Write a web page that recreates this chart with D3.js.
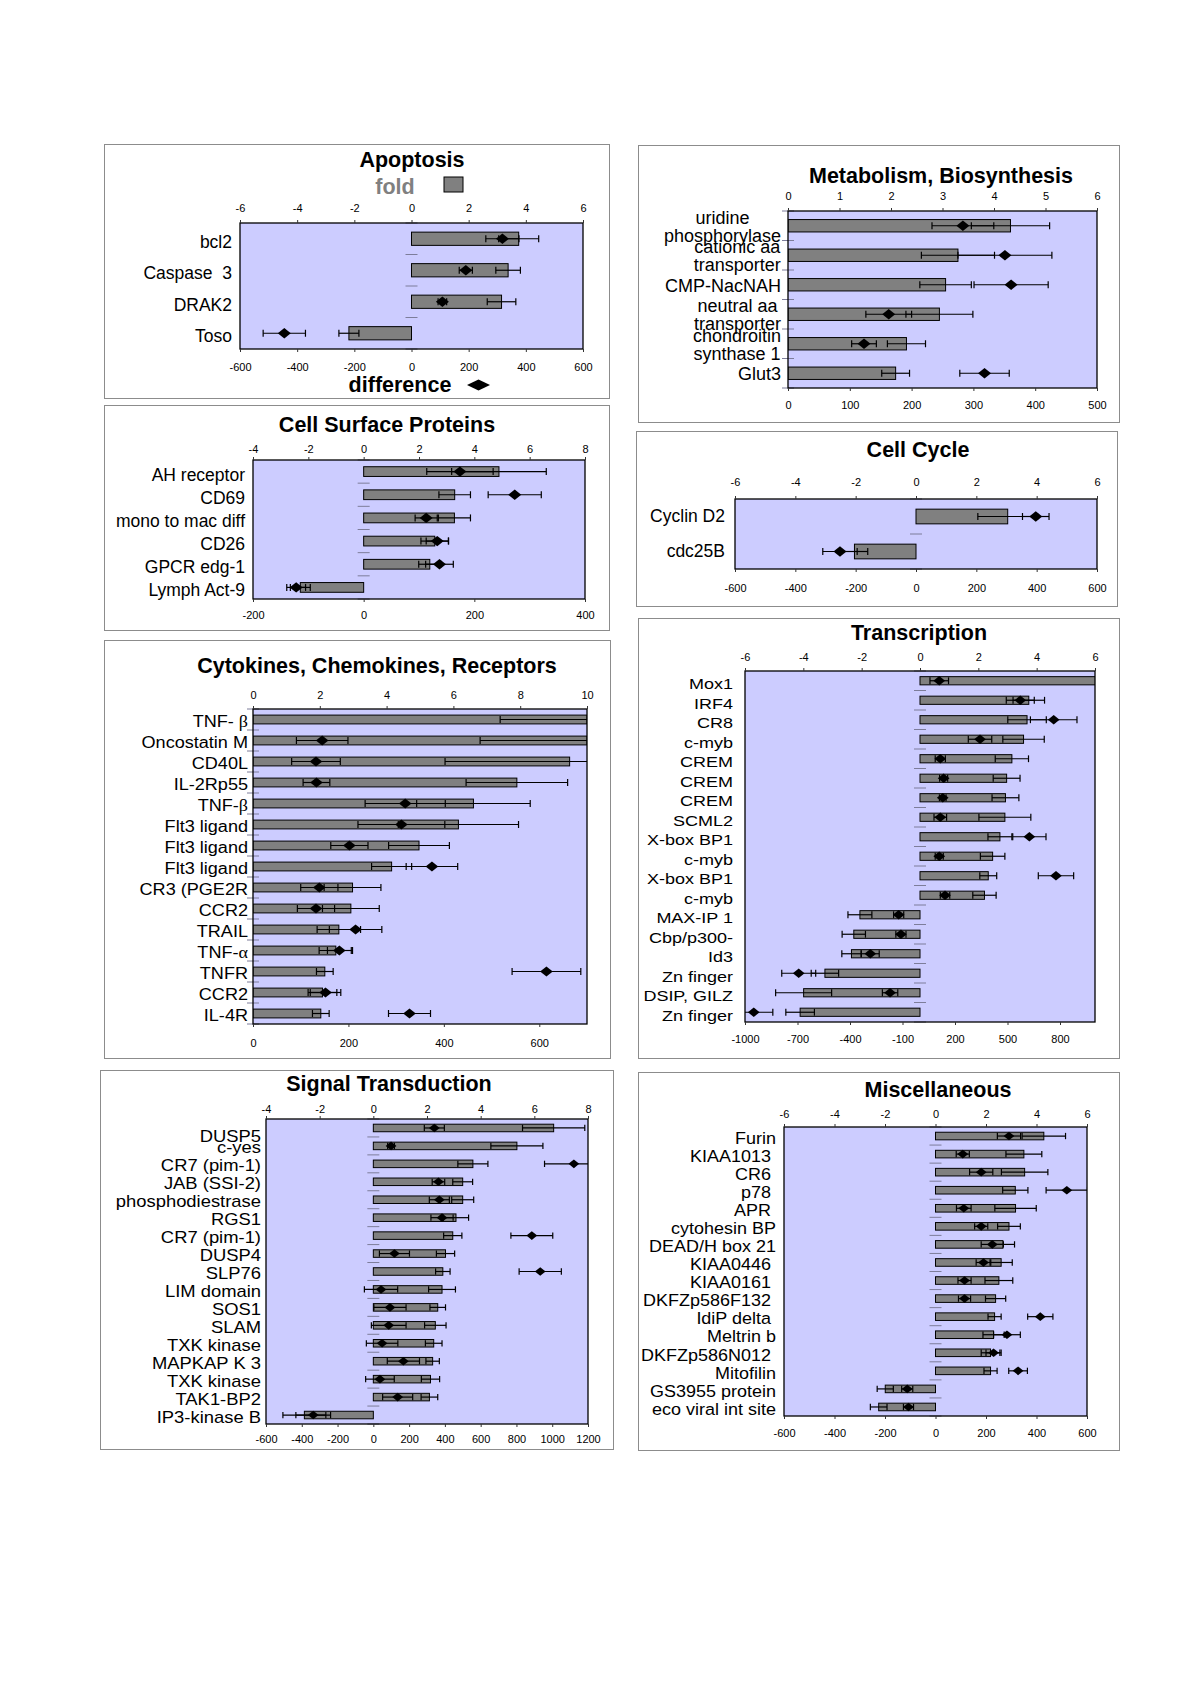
<!DOCTYPE html>
<html><head><meta charset="utf-8">
<script src="https://cdn.jsdelivr.net/npm/d3@7"></script>
<style>
body{margin:0;background:#fff}
svg{display:block}
text{font-family:"Liberation Sans",Arial,Helvetica,sans-serif}
</style>
</head><body>
<svg id="c" width="1198" height="1696"></svg>
<script>
// ---------------- DATA ----------------
// Apoptosis
const apoCategories = ["bcl2", "Caspase  3", "DRAK2", "Toso"];
const apoFold = [3.75, 3.38, 3.15, -2.19];
const apoFoldErr = [0.70, 0.43, 0.50, 0.35];
const apoDiff = [318, 190, 108, -445];
const apoDiffErr = [58, 23, 15, 74];
const apoFoldTicks = [-6, -4, -2, 0, 2, 4, 6];
const apoDiffTicks = [-600, -400, -200, 0, 200, 400, 600];
const apoFoldDomain = [-6, 6];
const apoDiffDomain = [-600, 600];

// Metabolism, Biosynthesis
const metCategories = ["uridine\nphosphorylase", "cationic aa\ntransporter", "CMP-NacNAH", "neutral aa\ntransporter", "chondroitin\nsynthase 1", "Glut3"];
const metFold = [4.32, 3.30, 3.06, 2.94, 2.30, 2.09];
const metFoldErr = [0.76, 0.71, 0.50, 0.65, 0.37, 0.27];
const metDiff = [283, 351, 361, 163, 123, 318];
const metDiffErr = [50, 76, 60, 37, 20, 40];
const metFoldTicks = [0, 1, 2, 3, 4, 5, 6];
const metDiffTicks = [0, 100, 200, 300, 400, 500];
const metFoldDomain = [0, 6];
const metDiffDomain = [0, 500];

// Cell Surface Proteins
const csCategories = ["AH receptor", "CD69", "mono to mac diff", "CD26", "GPCR edg-1", "Lymph Act-9"];
const csFold = [4.89, 3.29, 3.28, 2.57, 2.39, -2.29];
const csFoldErr = [1.71, 0.57, 0.58, 0.50, 0.40, 0.36];
const csDiff = [174, 273, 113, 133, 137, -122];
const csDiffErr = [60, 48, 20, 20, 25, 17];
const csFoldTicks = [-4, -2, 0, 2, 4, 6, 8];
const csDiffTicks = [-200, 0, 200, 400];
const csFoldDomain = [-4, 8];
const csDiffDomain = [-200, 400];

// Cell Cycle
const ccCategories = ["Cyclin D2", "cdc25B"];
const ccFold = [3.04, -2.04];
const ccFoldErr = [0.99, 0.44];
const ccDiff = [397, -252];
const ccDiffErr = [44, 57];
const ccFoldTicks = [-6, -4, -2, 0, 2, 4, 6];
const ccDiffTicks = [-600, -400, -200, 0, 200, 400, 600];
const ccFoldDomain = [-6, 6];
const ccDiffDomain = [-600, 600];

// Cytokines, Chemokines, Receptors
const cyCategories = ["TNF- β", "Oncostatin M", "CD40L", "IL-2Rp55", "TNF-β", "Flt3 ligand", "Flt3 ligand", "Flt3 ligand", "CR3 (PGE2R", "CCR2", "TRAIL", "TNF-α", "TNFR", "CCR2", "IL-4R"];
const cyFold = [10, 10, 9.48, 7.90, 6.60, 6.15, 4.97, 4.15, 2.98, 2.93, 2.57, 2.48, 2.15, 2.08, 2.03];
const cyFoldErr = [2.6, 3.2, 3.73, 1.52, 1.70, 1.80, 0.91, 0.60, 0.85, 0.85, 0.65, 0.50, 0.25, 0.43, 0.25];
const cyDiff = [null, 145, 132, 133, 319, 311, 202, 375, 139, 132, 215, 181, 615, 152, 328];
const cyDiffErr = [null, 54, 51, 28, 84, 91, 39, 54, 39, 39, 55, 25, 72, 32, 44];
const cyFoldTicks = [0, 2, 4, 6, 8, 10];
const cyDiffTicks = [0, 200, 400, 600];
const cyFoldDomain = [0, 10];
const cyDiffDomain = [0, 700];

// Transcription
const trCategories = ["Mox1", "IRF4", "CR8", "c-myb", "CREM", "CREM", "CREM", "SCML2", "X-box BP1", "c-myb", "X-box BP1", "c-myb", "MAX-IP 1", "Cbp/p300-", "Id3", "Zn finger", "DSIP, GILZ", "Zn finger"];
const trFold = [6.2, 3.73, 3.67, 3.55, 3.15, 2.97, 2.93, 2.91, 2.74, 2.49, 2.34, 2.21, -2.06, -2.27, -2.35, -3.26, -3.99, -4.11];
const trFoldErr = [0, 0.54, 0.66, 0.71, 0.57, 0.46, 0.46, 0.89, 0.41, 0.42, 0.29, 0.40, 0.41, 0.40, 0.33, 0.47, 0.96, 0.49];
const trDiff = [110, 573, 764, 343, 116, 135, 130, 116, 625, 110, 777, 143, -122, -109, -284, -693, -171, -950];
const trDiffErr = [53, 80, 133, 67, 29, 23, 19, 36, 95, 23, 101, 27, 29, 29, 51, 97, 44, 109];
const trFoldTicks = [-6, -4, -2, 0, 2, 4, 6];
const trDiffTicks = [-1000, -700, -400, -100, 200, 500, 800];
const trFoldDomain = [-6, 6];
const trDiffDomain = [-1000, 1000];

// Signal Transduction
const stCategories = ["DUSP5", "c-yes", "CR7 (pim-1)", "JAB (SSI-2)", "phosphodiestrase", "RGS1", "CR7 (pim-1)", "DUSP4", "SLP76", "LIM domain", "SOS1", "SLAM", "TXK kinase", "MAPKAP K 3", "TXK kinase", "TAK1-BP2", "IP3-kinase B"];
const stFold = [6.72, 5.35, 3.71, 3.33, 3.33, 3.08, 2.96, 2.69, 2.59, 2.56, 2.40, 2.31, 2.25, 2.21, 2.13, 2.09, -2.57];
const stFoldErr = [1.16, 0.97, 0.56, 0.37, 0.41, 0.47, 0.34, 0.34, 0.27, 0.50, 0.29, 0.40, 0.31, 0.25, 0.34, 0.31, 0.80];
const stDiff = [341, 99, 1121, 364, 369, 384, 886, 118, 933, 43, 93, 86, 49, 168, 37, 136, -336];
const stDiffErr = [56, 19, 164, 35, 56, 62, 117, 84, 118, 93, 90, 97, 88, 90, 80, 84, 97];
const stFoldTicks = [-4, -2, 0, 2, 4, 6, 8];
const stDiffTicks = [-600, -400, -200, 0, 200, 400, 600, 800, 1000, 1200];
const stFoldDomain = [-4, 8];
const stDiffDomain = [-600, 1200];

// Miscellaneous
const miCategories = ["Furin", "KIAA1013 ", "CR6 ", "p78 ", "APR ", "cytohesin BP", "DEAD/H box 21", "KIAA0446 ", "KIAA0161 ", "DKFZp586F132 ", "IdiP delta ", "Meltrin b", "DKFZp586N012 ", "Mitofilin", "GS3955 protein", "eco viral int site"];
const miFold = [4.29, 3.50, 3.53, 3.16, 3.17, 2.91, 2.67, 2.60, 2.51, 2.38, 2.34, 2.30, 2.18, 2.18, -1.99, -2.25];
const miFoldErr = [0.86, 0.71, 0.92, 0.50, 0.82, 0.45, 0.46, 0.44, 0.55, 0.40, 0.26, 0.42, 0.37, 0.26, 0.32, 0.33];
const miDiff = [291, 108, 181, 520, 112, 181, 225, 190, 115, 115, 415, 283, 230, 327, -112, -107];
const miDiffErr = [46, 26, 46, 82, 29, 26, 44, 29, 26, 24, 50, 53, 30, 37, 22, 20];
const miFoldTicks = [-6, -4, -2, 0, 2, 4, 6];
const miDiffTicks = [-600, -400, -200, 0, 200, 400, 600];
const miFoldDomain = [-6, 6];
const miDiffDomain = [-600, 600];

// ---------------- LAYOUT (positions / styles) ----------------
const panels = [
  {title: "Apoptosis", cats: apoCategories, fold: apoFold, foldErr: apoFoldErr, diff: apoDiff, diffErr: apoDiffErr,
   foldTicks: apoFoldTicks, diffTicks: apoDiffTicks, foldDomain: apoFoldDomain, diffDomain: apoDiffDomain,
   L: {box: [104, 144, 609, 398], plot: [240, 223, 583, 349], titleX: 412, titleY: 167, labelX: 232, fs: 17.5, stretch: 1, labelDy: 3, topY: 208, botY: 367, legend: true}},
  {title: "Metabolism, Biosynthesis", cats: metCategories, fold: metFold, foldErr: metFoldErr, diff: metDiff, diffErr: metDiffErr,
   foldTicks: metFoldTicks, diffTicks: metDiffTicks, foldDomain: metFoldDomain, diffDomain: metDiffDomain,
   L: {box: [638, 145, 1119, 422], plot: [788, 211, 1097, 388], titleX: 941, titleY: 183, labelX: 781, fs: 18, stretch: 1, labelDy: 1, topY: 196, botY: 405}},
  {title: "Cell Surface Proteins", cats: csCategories, fold: csFold, foldErr: csFoldErr, diff: csDiff, diffErr: csDiffErr,
   foldTicks: csFoldTicks, diffTicks: csDiffTicks, foldDomain: csFoldDomain, diffDomain: csDiffDomain,
   L: {box: [104, 405, 609, 630], plot: [253, 460, 585, 599], titleX: 387, titleY: 432, labelX: 245, fs: 17.5, stretch: 1, labelDy: 3, topY: 449, botY: 615}},
  {title: "Cell Cycle", cats: ccCategories, fold: ccFold, foldErr: ccFoldErr, diff: ccDiff, diffErr: ccDiffErr,
   foldTicks: ccFoldTicks, diffTicks: ccDiffTicks, foldDomain: ccFoldDomain, diffDomain: ccDiffDomain,
   L: {box: [636, 431, 1117, 606], plot: [735, 499, 1097, 569], titleX: 918, titleY: 457, labelX: 725, fs: 17.5, stretch: 1, labelDy: -1, topY: 482, botY: 588}},
  {title: "Cytokines, Chemokines, Receptors", cats: cyCategories, fold: cyFold, foldErr: cyFoldErr, diff: cyDiff, diffErr: cyDiffErr,
   foldTicks: cyFoldTicks, diffTicks: cyDiffTicks, foldDomain: cyFoldDomain, diffDomain: cyDiffDomain,
   L: {box: [104, 640, 610, 1058], plot: [253, 709, 587, 1024], titleX: 377, titleY: 673, labelX: 248, fs: 16, stretch: 1.13, labelDy: 2, topY: 695, botY: 1043, serifRows: [0]}},
  {title: "Transcription", cats: trCategories, fold: trFold, foldErr: trFoldErr, diff: trDiff, diffErr: trDiffErr,
   foldTicks: trFoldTicks, diffTicks: trDiffTicks, foldDomain: trFoldDomain, diffDomain: trDiffDomain,
   L: {box: [638, 618, 1119, 1058], plot: [745, 671, 1095, 1022], titleX: 919, titleY: 640, labelX: 733, fs: 15, stretch: 1.2, labelDy: 3, topY: 657, botY: 1039}},
  {title: "Signal Transduction", cats: stCategories, fold: stFold, foldErr: stFoldErr, diff: stDiff, diffErr: stDiffErr,
   foldTicks: stFoldTicks, diffTicks: stDiffTicks, foldDomain: stFoldDomain, diffDomain: stDiffDomain,
   L: {box: [100, 1070, 613, 1449], plot: [266, 1119, 588, 1424], titleX: 389, titleY: 1091, labelX: 261, fs: 16, stretch: 1.15, labelDy: 2, topY: 1109, botY: 1439, rowDy: {0: 6}}},
  {title: "Miscellaneous", cats: miCategories, fold: miFold, foldErr: miFoldErr, diff: miDiff, diffErr: miDiffErr,
   foldTicks: miFoldTicks, diffTicks: miDiffTicks, foldDomain: miFoldDomain, diffDomain: miDiffDomain,
   L: {box: [638, 1072, 1119, 1450], plot: [784, 1127, 1087, 1416], titleX: 938, titleY: 1097, labelX: 776, fs: 16.5, stretch: 1.09, labelDy: 2, topY: 1114, botY: 1433}}
];

// ---------------- DRAW ----------------
const svg = d3.select("#c");
const GREEK = /[αβ]/;

panels.forEach((p, pi) => {
  const L = p.L;
  const g = svg.append("g");
  const [pl, pt, pr, pb] = L.plot;

  // outer frame
  g.append("rect")
    .attr("x", L.box[0] + 0.5).attr("y", L.box[1] + 0.5)
    .attr("width", L.box[2] - L.box[0]).attr("height", L.box[3] - L.box[1])
    .attr("fill", "none").attr("stroke", "#8c8c8c").attr("stroke-width", 1);

  const xf = d3.scaleLinear().domain(p.foldDomain).range([pl, pr]);
  const xd = d3.scaleLinear().domain(p.diffDomain).range([pl, pr]);
  const y = d3.scaleBand().domain(d3.range(p.cats.length)).range([pt, pb]);
  const bw = y.bandwidth();
  const bh = bw * 0.42;
  const cap = Math.min(7, bw * 0.35);
  const x0 = xf(0);

  // plot background
  g.append("rect").attr("x", pl).attr("y", pt).attr("width", pr - pl).attr("height", pb - pt)
    .attr("fill", "#ccccff");

  const cid = "clip" + pi;
  g.append("clipPath").attr("id", cid).append("rect")
    .attr("x", pl).attr("y", pt).attr("width", pr - pl).attr("height", pb - pt);
  const inner = g.append("g").attr("clip-path", `url(#${cid})`);

  // category boundary ticks on the zero axis
  g.append("g").selectAll("line").data(d3.range(p.cats.length + 1)).join("line")
    .attr("x1", x0 - 6).attr("x2", x0 + 6)
    .attr("y1", i => (i < p.cats.length ? y(i) : pb)).attr("y2", i => (i < p.cats.length ? y(i) : pb))
    .attr("stroke", "#7d7d9a").attr("stroke-width", 1);

  // bars
  inner.append("g").selectAll("rect").data(p.fold).join("rect")
    .attr("x", d => Math.min(xf(d), x0))
    .attr("y", (d, i) => y(i) + bw / 2 - bh / 2)
    .attr("width", d => Math.abs(xf(d) - x0))
    .attr("height", bh)
    .attr("fill", "#808080").attr("stroke", "#000").attr("stroke-width", 1);

  function errBars(vals, errs, scale, cls) {
    const data = vals.map((v, i) => ({v, e: errs[i], i})).filter(d => d.v !== null && d.e);
    const eg = inner.append("g").attr("class", cls).attr("stroke", "#000").attr("stroke-width", 1.2).attr("fill", "none");
    data.forEach(d => {
      const cy = y(d.i) + bw / 2;
      const a = scale(d.v - d.e), b = scale(d.v + d.e);
      eg.append("line").attr("x1", a).attr("x2", b).attr("y1", cy).attr("y2", cy);
      eg.append("line").attr("x1", a).attr("x2", a).attr("y1", cy - cap / 2).attr("y2", cy + cap / 2);
      eg.append("line").attr("x1", b).attr("x2", b).attr("y1", cy - cap / 2).attr("y2", cy + cap / 2);
    });
  }
  errBars(p.fold, p.foldErr, xf, "ferr");
  errBars(p.diff, p.diffErr, xd, "derr");

  // diamonds
  const hw = Math.min(6.5, bw * 0.3), hh = hw * 0.8;
  inner.append("g").selectAll("path")
    .data(p.diff.map((v, i) => ({v, i})).filter(d => d.v !== null))
    .join("path")
    .attr("d", d => {
      const cx = xd(d.v), cy = y(d.i) + bw / 2;
      return `M${cx - hw},${cy}L${cx},${cy - hh}L${cx + hw},${cy}L${cx},${cy + hh}Z`;
    })
    .attr("fill", "#000");

  // plot border
  g.append("rect").attr("x", pl).attr("y", pt).attr("width", pr - pl).attr("height", pb - pt)
    .attr("fill", "none").attr("stroke", "#000").attr("stroke-width", 1.3);

  // axes
  const fmt = d => String(d);
  const topPad = pt - 3 - (L.topY + 4);
  const ta = g.append("g").attr("transform", `translate(0,${pt})`)
    .call(d3.axisTop(xf).tickValues(p.foldTicks).tickSize(3).tickPadding(topPad).tickFormat(fmt));
  const botPad = L.botY - pb - 6.9;
  const ba = g.append("g").attr("transform", `translate(0,${pb})`)
    .call(d3.axisBottom(xd).tickValues(p.diffTicks).tickSize(3).tickPadding(botPad).tickFormat(fmt));
  [ta, ba].forEach(ax => {
    ax.select(".domain").remove();
    ax.selectAll(".tick line").attr("stroke", "#333");
    ax.selectAll("text").attr("font-size", 11).attr("fill", "#000")
      .attr("font-family", '"Liberation Sans", Arial, sans-serif');
    ax.attr("font-family", null).attr("font-size", null);
  });

  // title
  g.append("text").attr("x", L.titleX).attr("y", L.titleY).attr("text-anchor", "middle")
    .attr("font-weight", "bold").attr("font-size", 21.5).attr("fill", "#000").text(p.title);

  // category labels
  const serifRows = L.serifRows || [];
  const rowDy = L.rowDy || {};
  p.cats.forEach((lab, i) => {
    const cy = y(i) + bw / 2 + L.labelDy + (rowDy[i] || 0);
    const lines = lab.split("\n");
    const t = g.append("text").attr("font-size", L.fs).attr("fill", "#000")
      .attr("dominant-baseline", "central").style("white-space", "pre");
    if (serifRows.includes(i)) t.attr("font-family", '"Liberation Serif", "Times New Roman", serif');
    const lh = L.fs * 1.0;
    lines.forEach((ln, k) => {
      const ts = t.append("tspan").attr("x", 0).attr("y", (k - (lines.length - 1) / 2) * lh);
      const runs = ln.split(/([αβ])/).filter(s => s.length);
      runs.forEach(r => {
        const rs = ts.append("tspan").text(r);
        if (GREEK.test(r)) rs.attr("font-family", '"Liberation Serif", "Times New Roman", serif');
      });
    });
    if (lines.length > 1) {
      t.attr("text-anchor", "middle");
      const w = t.node().getBBox().width;
      t.attr("transform", `translate(${L.labelX - w * L.stretch / 2},${cy}) scale(${L.stretch},1)`);
    } else {
      t.attr("text-anchor", "end")
        .attr("transform", `translate(${L.labelX},${cy}) scale(${L.stretch},1)`);
    }
  });

  // legend (Apoptosis only)
  if (L.legend) {
    g.append("text").attr("x", 395).attr("y", 194).attr("text-anchor", "middle")
      .attr("font-weight", "bold").attr("font-size", 21.5).attr("fill", "#808080").text("fold");
    g.append("rect").attr("x", 444).attr("y", 177).attr("width", 19).attr("height", 15)
      .attr("fill", "#808080").attr("stroke", "#000").attr("stroke-width", 1);
    g.append("text").attr("x", 400).attr("y", 392).attr("text-anchor", "middle")
      .attr("font-weight", "bold").attr("font-size", 21.5).attr("fill", "#000").text("difference");
    g.append("path").attr("d", "M467,385L478.5,379.5L490,385L478.5,390.5Z").attr("fill", "#000");
  }
});
</script>
</body></html>
